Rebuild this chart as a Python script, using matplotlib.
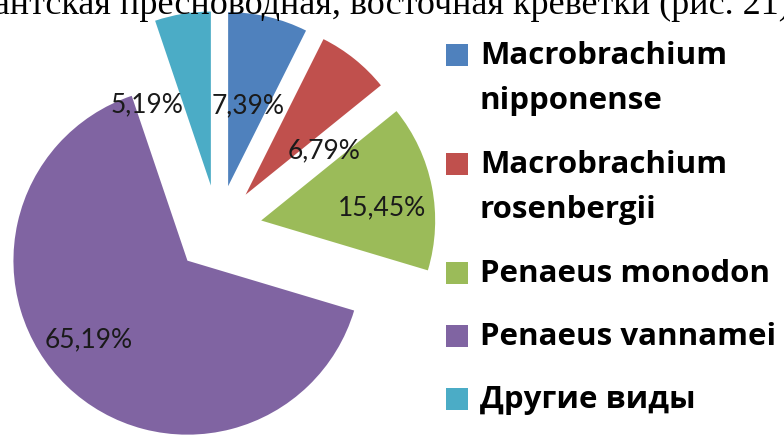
import matplotlib
matplotlib.use("Agg")
import matplotlib.pyplot as plt
from matplotlib.patches import Rectangle

W, H = 784, 439

species = ["Macrobrachium\nnipponense", "Macrobrachium\nrosenbergii",
           "Penaeus monodon", "Penaeus vannamei", "Другие виды"]
shares = [7.39, 6.79, 15.45, 65.19, 5.19]
colors = ["#4F81BD", "#C0504D", "#9BBB59", "#8064A2", "#4BACC6"]

# pixel positions (from top-left) for the percentage labels
label_pos = [(248, 106), (324, 151), (382, 208), (89, 340), (147, 105)]
# legend square centres (y from top)
legend_y = [56, 165, 274, 337, 400]

fig = plt.figure(figsize=(W / 100, H / 100), dpi=100)
ax = fig.add_axes([0, 0, 1, 1])

# explode is in data units here (pixels)
radius = 174
ax.pie(shares, colors=colors, startangle=90, counterclock=False,
       center=(218, H - 230), radius=radius,
       explode=[44] * len(shares),
       wedgeprops=dict(linewidth=0))
ax.set_xlim(0, W)
ax.set_ylim(0, H)
ax.set_aspect("equal")
ax.axis("off")

for v, (x, y) in zip(shares, label_pos):
    ax.text(x, H - y, f"{v:.2f}%".replace(".", ","), ha="center", va="center",
            fontsize=19, family="Lato", color="#1a1a1a")

# legend drawn by hand so two-line labels line up like the original
for name, col, y in zip(species, colors, legend_y):
    ax.add_patch(Rectangle((446, H - y - 11), 22, 22, color=col, lw=0))
    for i, line in enumerate(name.split("\n")):
        ax.text(480, H - y - i * 45, line, ha="left", va="center",
                fontsize=22.5, family="Open Sans", fontweight="bold",
                color="black")

# bottom of the document line above the chart (cut by the crop)
ax.text(111, H - 13.5, "гигантская", ha="right", va="baseline",
        fontsize=26, family="Liberation Serif", color="black")
ax.text(120, H - 13.5, "пресноводная, восточная креветки (рис. 21)",
        ha="left", va="baseline", fontsize=26, family="Liberation Serif",
        color="black")

fig.savefig("out.png", dpi=100)
